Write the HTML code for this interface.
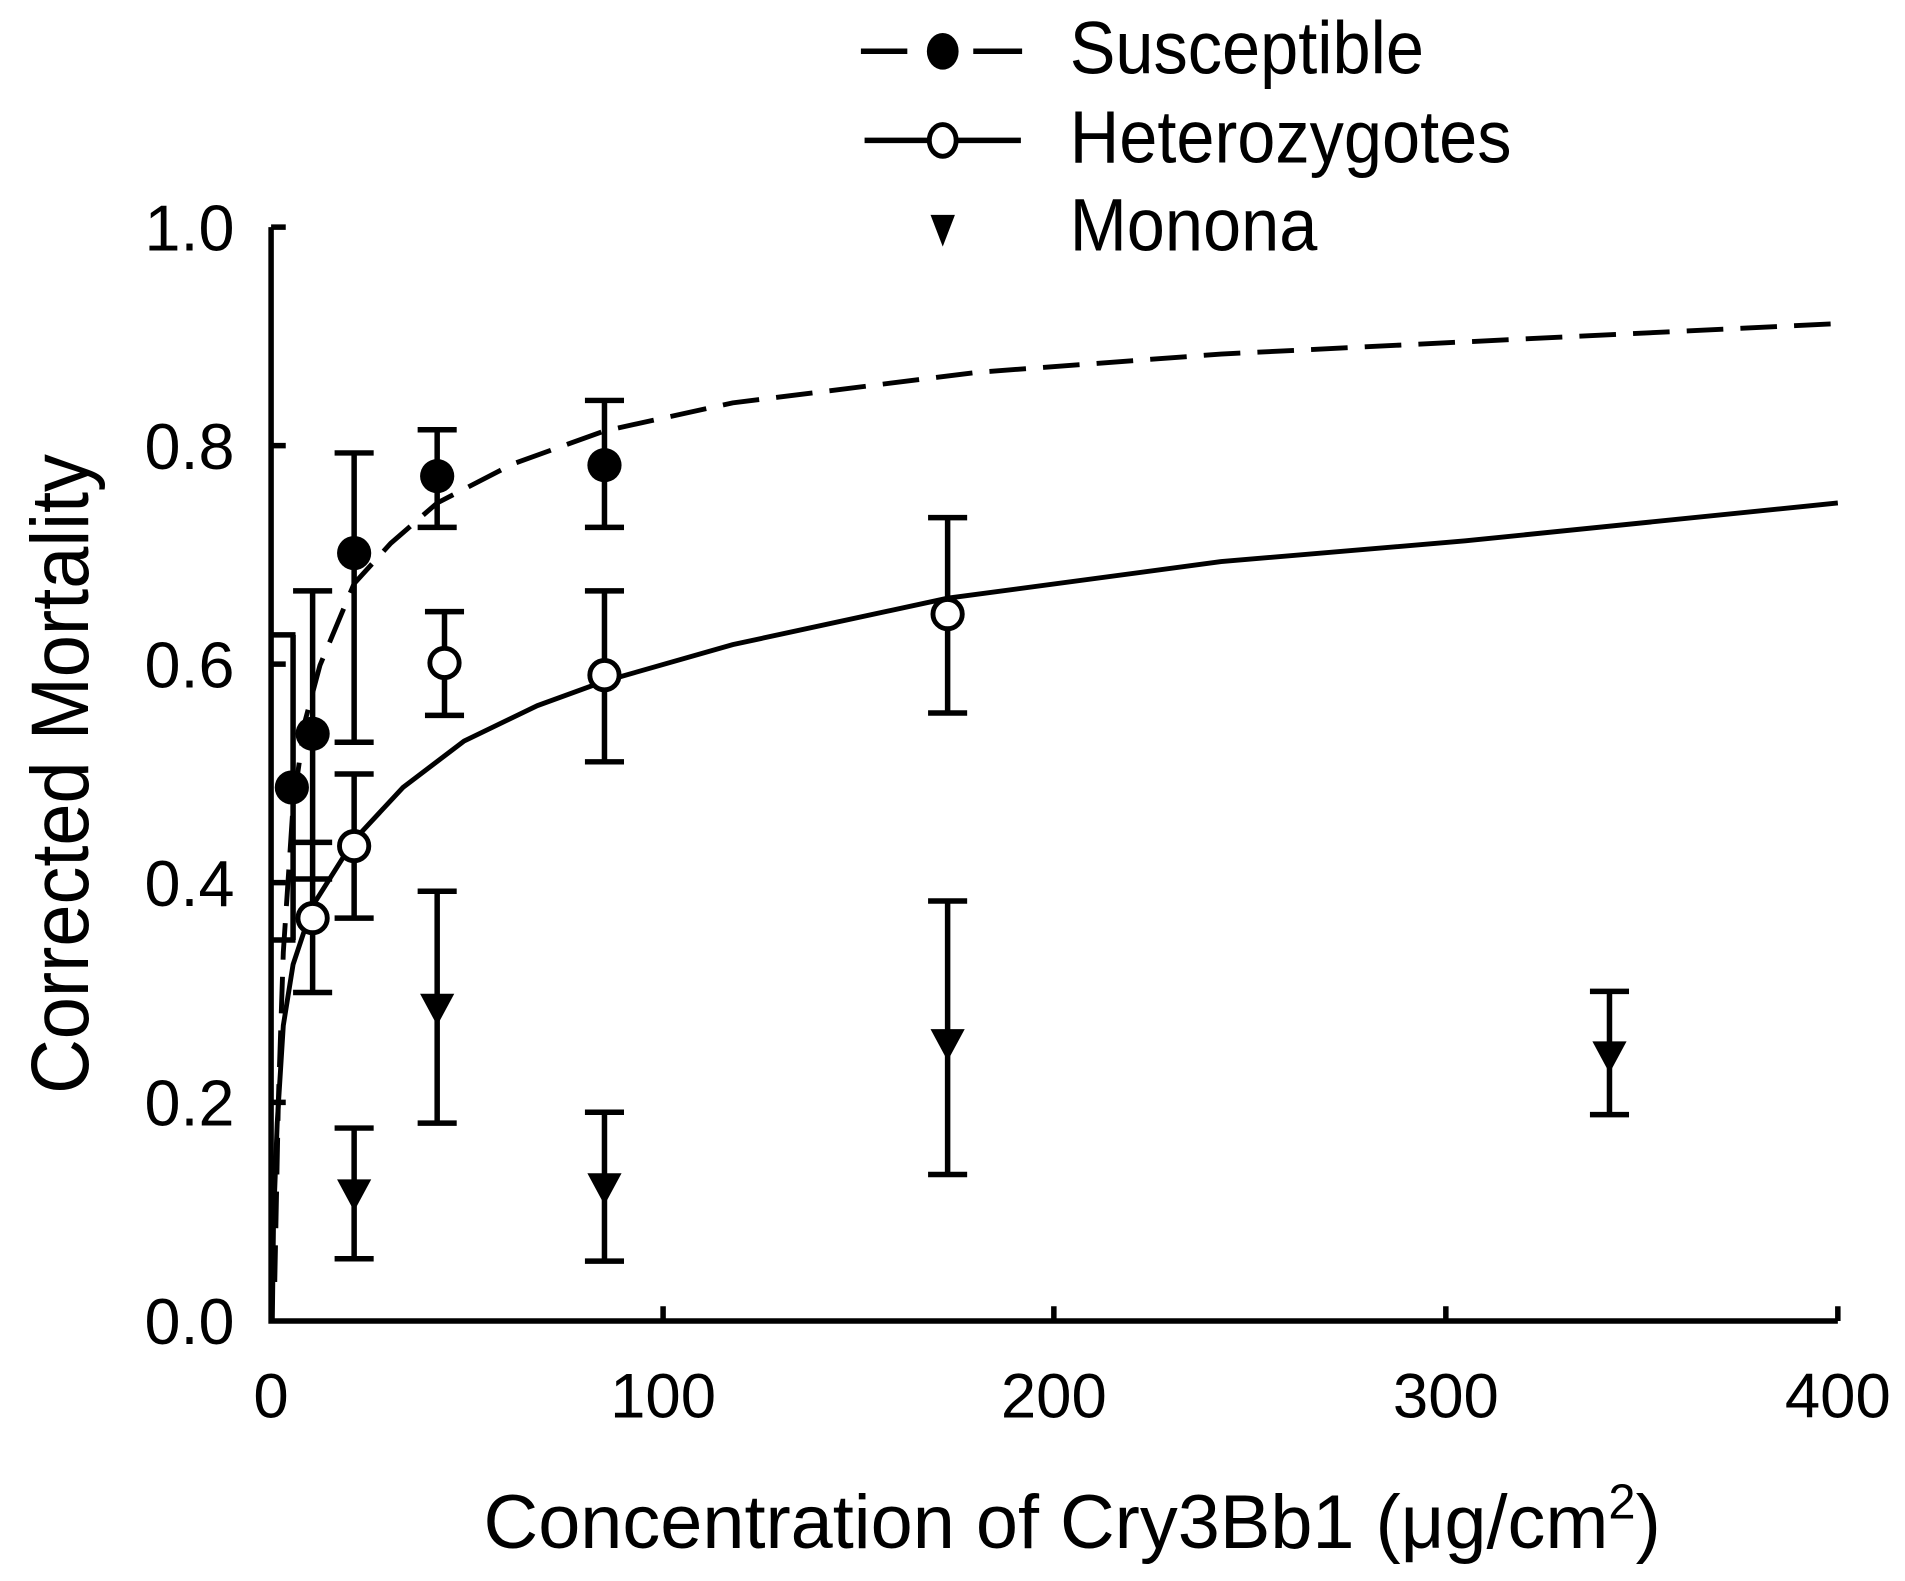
<!DOCTYPE html>
<html><head><style>html,body{margin:0;padding:0;background:#fff}svg{display:block}</style></head>
<body>
<svg width="1905" height="1581" viewBox="0 0 1560 1295" preserveAspectRatio="none" xmlns="http://www.w3.org/2000/svg" font-family="Liberation Sans, sans-serif">
<rect width="1560" height="1295" fill="#fff"/>
<g stroke="#000" stroke-width="4.5" fill="none">
<path d="M222,186 V1082 H1505"/>
<path d="M222,186 h12 M222,365 h12 M222,544 h12 M222,723 h12 M222,903 h12"/>
<path d="M543,1082 v-12 M863,1082 v-12 M1184,1082 v-12 M1505,1082 v-12"/>
</g>
<g font-size="53" text-anchor="end" fill="#000">
<text x="192" y="1101">0.0</text><text x="192" y="922">0.2</text><text x="192" y="742">0.4</text><text x="192" y="563">0.6</text><text x="192" y="384">0.8</text><text x="192" y="205">1.0</text>
</g>
<g font-size="52" text-anchor="middle" fill="#000">
<text x="222" y="1161">0</text><text x="543" y="1161">100</text><text x="863" y="1161">200</text><text x="1184" y="1161">300</text><text x="1505" y="1161">400</text>
</g>
<text x="878" y="1268" font-size="62" text-anchor="middle">Concentration of Cry3Bb1 (μg/cm<tspan font-size="40" dy="-24">2</tspan><tspan dy="24">)</tspan></text>
<text transform="translate(72,634) rotate(-90) scale(1.07,1.15)" font-size="58" text-anchor="middle">Corrected Mortality</text>
<polyline fill="none" stroke="#000" stroke-width="4" stroke-dasharray="30,14" points="225,1050 228,900 232,780 240,660 250,590 262,545 290,478 320,445 358,412 420,380 495,353 600,330 800,305 1000,290 1200,280 1505,265"/>
<polyline fill="none" stroke="#000" stroke-width="4" points="223,1082 224,1000 227,920 232,840 240,790 256,742 290,688 330,645 380,607 440,578 495,558 600,528 776,490 1000,460 1200,443 1505,412"/>
<g stroke="#000" stroke-width="4.5" fill="none">
<path d="M240,520 V770 M222,520 h20 M222,770 h20"/>
<path d="M256,484 V690 M240,484 h32 M240,690 h32"/>
<path d="M290,371 V608 M274,371 h32 M274,608 h32"/>
<path d="M358,352 V432 M342,352 h32 M342,432 h32"/>
<path d="M495,328 V432 M479,328 h32 M479,432 h32"/>
<path d="M256,690 V813 M240,720 h32 M240,813 h32"/>
<path d="M290,634 V752 M274,634 h32 M274,752 h32"/>
<path d="M364,501 V586 M348,501 h32 M348,586 h32"/>
<path d="M495,484 V624 M479,484 h32 M479,624 h32"/>
<path d="M776,424 V584 M760,424 h32 M760,584 h32"/>
<path d="M290,924 V1031 M274,924 h32 M274,1031 h32"/>
<path d="M358,730 V920 M342,730 h32 M342,920 h32"/>
<path d="M495,911 V1033 M479,911 h32 M479,1033 h32"/>
<path d="M776,738 V962 M760,738 h32 M760,962 h32"/>
<path d="M1318,812 V913 M1302,812 h32 M1302,913 h32"/>
</g>
<g fill="#000">
<circle cx="239" cy="645" r="14"/><circle cx="256" cy="601" r="14"/><circle cx="290" cy="453" r="14"/><circle cx="358" cy="390" r="14"/><circle cx="495" cy="381" r="14"/>
</g>
<g fill="#fff" stroke="#000" stroke-width="4">
<circle cx="256" cy="752" r="12"/><circle cx="290" cy="693" r="12"/><circle cx="364" cy="543" r="12"/><circle cx="495" cy="553" r="12"/><circle cx="776" cy="503" r="12"/>
</g>
<g fill="#000">
<path d="M276,966 h28 l-14,26 z"/><path d="M344,814 h28 l-14,26 z"/><path d="M481,961 h28 l-14,26 z"/><path d="M762,843 h28 l-14,26 z"/><path d="M1304,853 h28 l-14,26 z"/>
</g>
<g stroke="#000" stroke-width="4.5">
<path d="M705,42 h38 M797,42 h40" /><path d="M708,115 h128"/>
</g>
<ellipse cx="772" cy="42" rx="13" ry="15" fill="#000"/>
<ellipse cx="772" cy="115" rx="11" ry="13" fill="#fff" stroke="#000" stroke-width="4"/>
<path d="M762,176 h20 l-10,26 z" fill="#000"/>
<g font-size="61" fill="#000">
<text transform="translate(876,60) scale(0.92,1)">Susceptible</text><text transform="translate(876,133) scale(0.92,1)">Heterozygotes</text><text transform="translate(876,205) scale(0.92,1)">Monona</text>
</g>
</svg>
</body></html>
